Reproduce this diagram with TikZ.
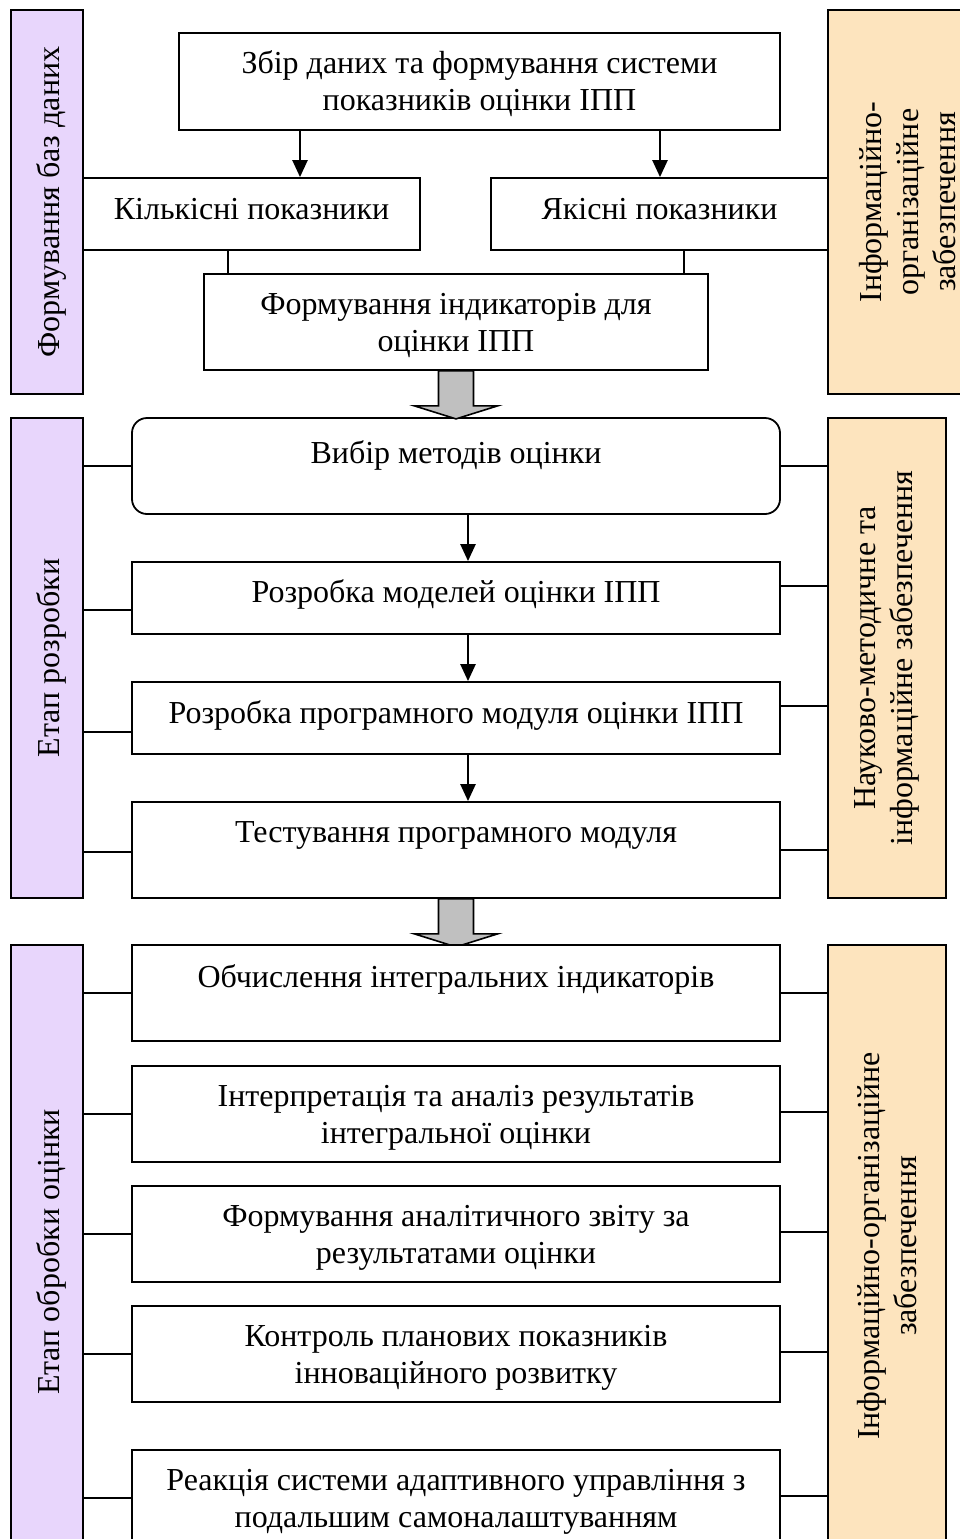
\documentclass[tikz,border=0pt]{standalone}
\usepackage{fontspec}
\setmainfont{Liberation Serif}
\usetikzlibrary{arrows.meta,calc}
\definecolor{lilac}{RGB}{232,214,252}
\definecolor{peach}{RGB}{253,228,190}
\definecolor{arrowgray}{RGB}{192,192,192}
% taller first line, so two-line texts sit a little lower in their boxes
\newcommand{\firstlinestrut}{\rule{0pt}{28pt}}
\begin{document}
\begin{tikzpicture}[x=1pt,y=-1pt,
  every node/.style={font=\fontsize{32}{37}\selectfont},
  box/.style={draw,line width=1.8pt,fill=white,align=center,inner sep=0pt},
  oneline/.style={text height=22pt,text depth=#1},
  panel/.style={draw,line width=1.8pt,inner sep=0pt,rotate=90,align=center},
  sidelabel/.style={text height=32pt,text depth=7pt},
  arr/.style={line width=2.4pt,-{Triangle[width=15pt,length=17pt]}},
  link/.style={line width=1.6pt},
  blockarrow/.style={draw,line width=1.6pt,fill=arrowgray,line join=miter}]
\useasboundingbox (0,0) rectangle (960,1539);
\clip (0,0) rectangle (960,1539);

% side panels (rotated, so width is the vertical extent)
\node[panel,sidelabel,fill=lilac,minimum width=384pt,minimum height=72pt] (pl1) at (47,202) {Формування баз даних};
\node[panel,fill=peach,minimum width=384pt,minimum height=160pt] (pr1) at (908,202) {Інформаційно-\\організаційне\\забезпечення};
\node[panel,sidelabel,fill=lilac,minimum width=480pt,minimum height=72pt] (pl2) at (47,658) {Етап розробки};
\node[panel,fill=peach,minimum width=480pt,minimum height=118pt] (pr2) at (887,658) {Науково-методичне та\\інформаційне забезпечення};
\node[panel,sidelabel,fill=lilac,minimum width=614pt,minimum height=72pt] (pl3) at (47,1252) {Етап обробки оцінки};
\node[panel,fill=peach,minimum width=602pt,minimum height=118pt] (pr3) at (887,1246) {Інформаційно-організаційне\\забезпечення};

% stage 1
\node[box,minimum width=601pt,minimum height=97pt] (top) at (479.5,81.5) {\firstlinestrut Збір даних та формування системи\\показників оцінки ІПП};
\node[box,oneline=11pt,minimum width=337pt,minimum height=72pt] (kil) at (251.5,214) {Кількісні показники};
\node[box,oneline=11pt,minimum width=337pt,minimum height=72pt] (yak) at (659.5,214) {Якісні показники};
\node[box,minimum width=504pt,minimum height=96pt] (ind) at (456,322) {\firstlinestrut Формування індикаторів для\\оцінки ІПП};

\draw[arr] ([xshift=-179.5pt]top.south) -- ([xshift=-179.5pt]top.south |- kil.north);
\draw[arr] ([xshift=180.5pt]top.south) -- ([xshift=180.5pt]top.south |- yak.north);
\draw[link] ([xshift=-23.5pt]kil.south) -- ([xshift=-23.5pt]kil.south |- ind.north);
\draw[link] ([xshift=24.5pt]yak.south) -- ([xshift=24.5pt]yak.south |- ind.north);

% stage 2
\node[box,rounded corners=15pt,oneline=27pt,minimum width=648pt,minimum height=96pt] (vyb) at (456,466) {Вибір методів оцінки};
\node[box,oneline=13pt,minimum width=648pt,minimum height=72pt] (rmod) at (456,598) {Розробка моделей оцінки ІПП};
\node[box,oneline=11pt,minimum width=648pt,minimum height=72pt] (rprog) at (456,718) {Розробка програмного модуля оцінки ІПП};
\node[box,oneline=37pt,minimum width=648pt,minimum height=96pt] (test) at (456,850) {Тестування програмного модуля};

\draw[blockarrow] ([xshift=-17.5pt]ind.south) -- ++(0,35) -- ++(-24,0) -- ++(41.5,13) -- ++(41.5,-13) -- ++(-24,0) -- ([xshift=17.5pt]ind.south) -- cycle;

\draw[arr] ([xshift=12pt]vyb.south) -- ([xshift=12pt]rmod.north);
\draw[arr] ([xshift=12pt]rmod.south) -- ([xshift=12pt]rprog.north);
\draw[arr] ([xshift=12pt]rprog.south) -- ([xshift=12pt]test.north);

\draw[link] (vyb.west) -- (vyb.west -| pl2.south);
\draw[link] ([yshift=-12pt]rmod.west) -- ([yshift=-12pt]rmod.west -| pl2.south);
\draw[link] ([yshift=-14pt]rprog.west) -- ([yshift=-14pt]rprog.west -| pl2.south);
\draw[link] ([yshift=-2pt]test.west) -- ([yshift=-2pt]test.west -| pl2.south);
\draw[link] (vyb.east) -- (vyb.east -| pr2.north);
\draw[link] ([yshift=12pt]rmod.east) -- ([yshift=12pt]rmod.east -| pr2.north);
\draw[link] ([yshift=12pt]rprog.east) -- ([yshift=12pt]rprog.east -| pr2.north);
\draw[link] (test.east) -- (test.east -| pr2.north);

% stage 3
\draw[blockarrow] ([xshift=-17.5pt]test.south) -- ++(0,35) -- ++(-24,0) -- ++(41.5,13) -- ++(41.5,-13) -- ++(-24,0) -- ([xshift=17.5pt]test.south) -- cycle;

\node[box,oneline=33pt,minimum width=648pt,minimum height=96pt] (obch) at (456,993) {Обчислення інтегральних індикаторів};
\node[box,minimum width=648pt,minimum height=96pt] (interp) at (456,1114) {\firstlinestrut Інтерпретація та аналіз результатів\\інтегральної оцінки};
\node[box,minimum width=648pt,minimum height=96pt] (zvit) at (456,1234) {\firstlinestrut Формування аналітичного звіту за\\результатами оцінки};
\node[box,minimum width=648pt,minimum height=96pt] (kontr) at (456,1354) {\firstlinestrut Контроль планових показників\\інноваційного розвитку};
\node[box,minimum width=648pt,minimum height=96pt] (reak) at (456,1498) {\firstlinestrut Реакція системи адаптивного управління з\\подальшим самоналаштуванням};

\foreach \b in {obch,interp,zvit,kontr,reak}{
  \draw[link] (\b.west) -- (\b.west -| pl3.south);
}
\draw[link] (obch.east) -- (obch.east -| pr3.north);
\foreach \b in {interp,zvit,kontr,reak}{
  \draw[link] ([yshift=2pt]\b.east) -- ([yshift=2pt]\b.east -| pr3.north);
}
\end{tikzpicture}
\end{document}
